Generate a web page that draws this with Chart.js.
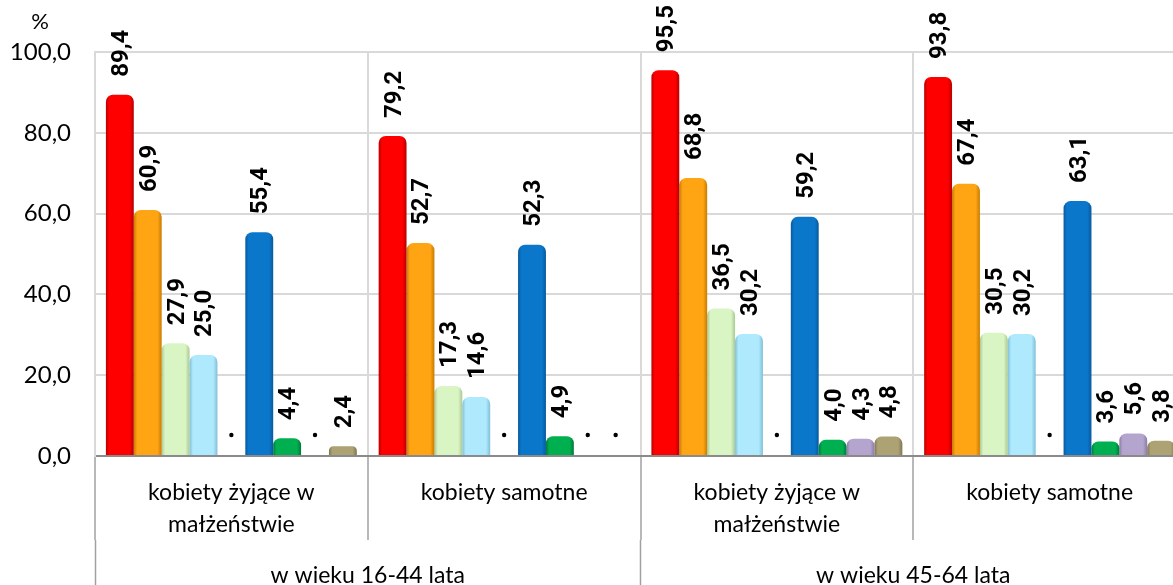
<!DOCTYPE html>
<html>
<head>
<meta charset="utf-8">
<script src="https://cdn.jsdelivr.net/npm/chart.js@4"></script>
<style>
html,body{margin:0;padding:0;background:#fff;overflow:hidden;}
#wrap{width:1186px;height:596px;position:relative;}
</style>
</head>
<body>
<div id="wrap"><canvas id="c"></canvas></div>
<script>
const categories = [['kobiety żyjące w','małżeństwie'], ['kobiety samotne'], ['kobiety żyjące w','małżeństwie'], ['kobiety samotne']];
const ageGroups = ['w wieku 16-44 lata', 'w wieku 45-64 lata'];
const yTicks = [0, 20, 40, 60, 80, 100];

const s1 = [89.4, 79.2, 95.5, 93.8];
const s2 = [60.9, 52.7, 68.8, 67.4];
const s3 = [27.9, 17.3, 36.5, 30.5];
const s4 = [25.0, 14.6, 30.2, 30.2];
const s5 = [null, null, null, null];
const s6 = [55.4, 52.3, 59.2, 63.1];
const s7 = [4.4, 4.9, 4.0, 3.6];
const s8 = [null, null, 4.3, 5.6];
const s9 = [2.4, null, 4.8, 3.8];

const seriesValues = [s1, s2, s3, s4, s5, s6, s7, s8, s9];
const seriesColors = ['#ff0000', '#ffa514', '#d9f5c4', '#aee9fd', '#cccccc', '#0b77cb', '#00b050', '#b4a5cf', '#aca273'];
const seriesEdge   = ['#b80000', '#c97a00', '#a9c995', '#7fbfd8', '#999999', '#075a9c', '#007a38', '#8a7aa8', '#7e7650'];

const FONT = 'Lato, "Open Sans", sans-serif';
const BOLDFONT = 'bold 24px Roboto, "Liberation Sans", sans-serif';

const fmt = v => v.toFixed(1).replace('.', ',');

const gradientPlugin = {
  id: 'gradients',
  beforeDatasetsDraw(chart) {
    const ctx = chart.ctx;
    chart.data.datasets.forEach((ds, di) => {
      const meta = chart.getDatasetMeta(di);
      meta.data.forEach(el => {
        if (el.width == null || isNaN(el.x)) return;
        const l = el.x - el.width / 2, r = el.x + el.width / 2;
        const g = ctx.createLinearGradient(l, 0, r, 0);
        g.addColorStop(0, seriesEdge[di]);
        g.addColorStop(0.12, seriesColors[di]);
        g.addColorStop(0.85, seriesColors[di]);
        g.addColorStop(1, seriesEdge[di]);
        el.options = Object.assign({}, el.options, { backgroundColor: g });
      });
    });
  }
};

const labelPlugin = {
  id: 'valueLabels',
  afterDatasetsDraw(chart) {
    const ctx = chart.ctx;
    const yScale = chart.scales.y;
    ctx.save();
    chart.data.datasets.forEach((ds, di) => {
      const meta = chart.getDatasetMeta(di);
      meta.data.forEach((el, i) => {
        const v = ds.data[i];
        if (v === null || v === undefined) {
          ctx.fillStyle = '#000';
          ctx.beginPath();
          ctx.arc(el.x, yScale.getPixelForValue(0) - 21, 2.2, 0, Math.PI * 2);
          ctx.fill();
          return;
        }
        const top = yScale.getPixelForValue(v);
        ctx.save();
        ctx.translate(el.x + 2, top - 18);
        ctx.rotate(-Math.PI / 2);
        ctx.font = BOLDFONT;
        ctx.fillStyle = '#000';
        ctx.textAlign = 'left';
        ctx.textBaseline = 'middle';
        ctx.fillText(fmt(v), 0, 0);
        ctx.restore();
      });
    });
    ctx.font = '22px ' + FONT;
    ctx.fillStyle = '#000';
    ctx.textAlign = 'center';
    ctx.textBaseline = 'middle';
    ctx.fillText('%', 40, 22);
    ctx.restore();
  }
};

const datasets = seriesValues.map((vals, i) => ({
  label: 'seria ' + (i + 1),
  data: vals,
  backgroundColor: seriesColors[i],
  borderWidth: 0,
  borderRadius: { topLeft: 7, topRight: 7, bottomLeft: 0, bottomRight: 0 },
  borderSkipped: 'bottom',
  barPercentage: 1.0,
  categoryPercentage: 0.92
}));

new Chart(document.getElementById('c'), {
  type: 'bar',
  data: { labels: categories, datasets },
  options: {
    responsive: true,
    maintainAspectRatio: false,
    animation: false,
    layout: { padding: { top: 52, right: 0, bottom: 0, left: 0 } },
    plugins: { legend: { display: false }, tooltip: { enabled: false } },
    scales: {
      x: {
        position: 'bottom',
        afterFit: s => { s.height = 84; },
        grid: { offset: true, color: '#d9d9d9', lineWidth: 2, tickLength: 84, tickColor: '#a0a0a0', tickWidth: 1.5 },
        border: { color: '#8a8a8a', width: 2 },
        ticks: { padding: -64, color: '#000', font: { family: FONT, size: 23, lineHeight: 1.4 }, maxRotation: 0, autoSkip: false }
      },
      x2: {
        type: 'category',
        position: 'bottom',
        labels: ageGroups,
        afterFit: s => { s.height = 56; },
        grid: { offset: true, drawOnChartArea: false, tickLength: 60, tickColor: '#a0a0a0', tickWidth: 1.5 },
        border: { display: false },
        ticks: { padding: -38, color: '#000', font: { family: FONT, size: 23, lineHeight: 1.2 }, maxRotation: 0, autoSkip: false }
      },
      y: {
        min: 0, max: 100,
        afterBuildTicks: s => { s.ticks = yTicks.map(v => ({ value: v })); },
        afterFit: s => { s.width = 95; },
        grid: { color: '#d9d9d9', lineWidth: 2, drawTicks: false },
        border: { color: '#d9d9d9', width: 2 },
        ticks: { padding: 24, color: '#000', font: { family: FONT, size: 24 }, callback: v => fmt(v) }
      }
    }
  },
  plugins: [gradientPlugin, labelPlugin]
});
</script>
</body>
</html>
